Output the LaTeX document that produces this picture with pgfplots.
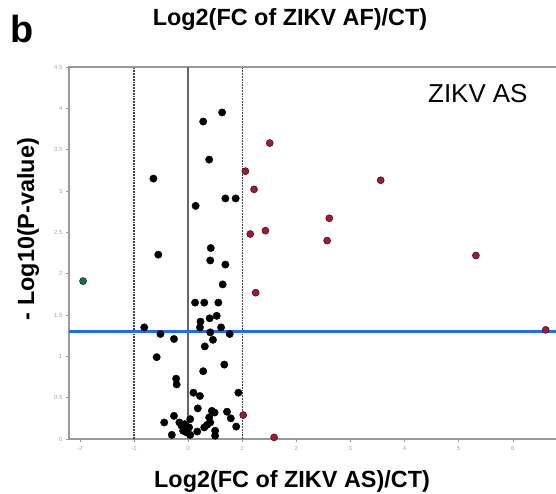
\documentclass[border=0pt]{standalone}
\usepackage{fontspec}
\setmainfont{Liberation Sans}
\usepackage{pgfplots}
\pgfplotsset{compat=1.18}
\usetikzlibrary{calc}

\definecolor{sigred}{HTML}{9A1D35}
\definecolor{sigredd}{HTML}{4D1020}
\definecolor{sigdown}{HTML}{1F6B57}
\definecolor{sigdownd}{HTML}{0E3328}
\definecolor{cutblue}{HTML}{1E6BFF}
\definecolor{spine}{HTML}{999999}

\begin{document}
\begin{tikzpicture}
\begin{axis}[
    scale only axis,
    width=487bp, height=372bp,
    xmin=-2.2, xmax=6.8, ymin=0, ymax=4.5,
    axis line style={draw=none},
    xtick={-2,-1,0,1,2,3,4,5,6},
    ytick={0,0.5,1,1.5,2,2.5,3,3.5,4,4.5},
    xtick pos=bottom, ytick pos=left,
    tick align=outside,
    major tick length=3bp,
    major tick style={spine, line width=0.4bp},
    tick label style={font=\fontsize{6}{7}\selectfont, text=gray!70},
    /pgf/number format/assume math mode=true,
    xticklabel style={yshift=-1bp},
    clip=false,
]
% frame: left, bottom, top (right edge is cut off)
\draw[spine, line width=1.5bp] (rel axis cs:1,0) -- (rel axis cs:0,0) -- (rel axis cs:0,1) -- (rel axis cs:1,1);

% fold-change cut-offs and zero line
\addplot[black!75, line width=1.3bp, dash pattern=on 1.8bp off 1bp] coordinates {(-1,0) (-1,4.5)};
\addplot[black!75, line width=1.3bp, dash pattern=on 1.8bp off 1bp] coordinates {(1,0) (1,4.5)};
\addplot[gray!80!black, line width=1.6bp] coordinates {(0,0) (0,4.5)};

% not significant
\addplot[only marks, mark=*, mark size=3.7bp, black] coordinates {
(-0.64,3.15) (-0.55,2.23) (-0.81,1.35) (-0.51,1.27) (-0.26,1.21) (-0.58,0.99)
(-0.22,0.73) (-0.21,0.66)
(0.63,3.95) (0.28,3.84) (0.39,3.38) (0.69,2.91) (0.88,2.91) (0.14,2.82)
(0.42,2.31) (0.41,2.16) (0.69,2.11) (0.64,1.87)
(0.13,1.65) (0.30,1.65) (0.56,1.65) (0.53,1.49) (0.40,1.46) (0.23,1.42)
(0.22,1.35) (0.61,1.35) (0.41,1.29) (0.77,1.27) (0.46,1.20) (0.31,1.12)
(0.67,0.90) (0.28,0.82) (0.10,0.56) (0.22,0.52) (0.93,0.56)
(0.18,0.37) (0.44,0.34) (0.49,0.32) (0.72,0.33) (0.79,0.25) (0.89,0.15)
(-0.26,0.28) (-0.44,0.20) (-0.30,0.05) (-0.16,0.20) (-0.12,0.16) (-0.09,0.10)
(-0.03,0.08) (0.04,0.24) (0.02,0.14) (0.04,0.05) (-0.06,0.18)
(0.17,0.09) (0.30,0.14) (0.41,0.20) (0.39,0.26) (0.35,0.17) (0.50,0.10) (0.50,0.04)
};

% up-regulated
\addplot[only marks, mark=*, mark size=3.5bp, draw=sigredd, fill=sigred, line width=0.6bp] coordinates {
(1.51,3.58) (1.06,3.24) (1.22,3.02) (1.15,2.48) (1.43,2.52) (1.25,1.77)
(2.61,2.67) (2.57,2.40) (3.56,3.13) (5.32,2.22) (6.61,1.32) (1.02,0.29) (1.59,0.02)
};

% down-regulated
\addplot[only marks, mark=*, mark size=3.5bp, draw=sigdownd, fill=sigdown, line width=0.6bp] coordinates {
(-1.94,1.91)
};

% p = 0.05
\addplot[cutblue, line width=3.5bp] coordinates {(-2.2,1.3) (6.8,1.3)};

\coordinate (ll) at (rel axis cs:0,0);
\coordinate (ur) at (rel axis cs:1,1);
\end{axis}

\node[anchor=base, font=\fontsize{23.5}{28}\selectfont\bfseries] at ($(ll)+(221bp,413bp)$) {Log2(FC of ZIKV AF)/CT)};
\node[anchor=base west, font=\fontsize{38}{44}\selectfont\bfseries, inner sep=0pt] at ($(ll)+(-59bp,396bp)$) {b};
\node[anchor=base, font=\fontsize{23.5}{28}\selectfont\bfseries] at ($(ll)+(223bp,-48bp)$) {Log2(FC of ZIKV AS)/CT)};
\node[rotate=90, font=\fontsize{23.5}{28}\selectfont\bfseries] at ($(ll)+(-41bp,210bp)$) {- Log10(P-value)};
\node[anchor=base west, font=\fontsize{26}{30}\selectfont, inner sep=0pt] at ($(ll)+(359bp,336bp)$) {ZIKV AS};

\pgfresetboundingbox
\useasboundingbox ($(ll)+(-69bp,-55bp)$) rectangle ($(ur)+(0bp,67bp)$);
\end{tikzpicture}
\end{document}
